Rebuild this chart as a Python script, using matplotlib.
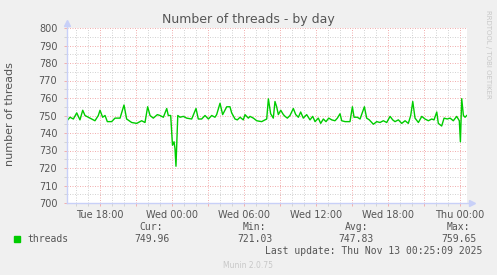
import matplotlib
matplotlib.use("Agg")
import matplotlib.pyplot as plt
from matplotlib.ticker import MultipleLocator, FuncFormatter

# hours since Tue 00:00, number of threads
hours = [15.25, 15.5, 15.78, 16.06, 16.33, 16.56, 16.75, 17.03, 17.31, 17.58,
         17.86, 18.0, 18.22, 18.42, 18.61, 18.97, 19.25, 19.67, 20.0, 20.22,
         20.64, 21.06, 21.47, 21.75, 21.97, 22.17, 22.44, 22.78, 23.0, 23.28,
         23.56, 23.69, 23.89, 24.04, 24.17, 24.25, 24.33, 24.48, 24.67, 24.94,
         25.22, 25.64, 26.0, 26.19, 26.47, 26.75, 27.03, 27.31, 27.58, 27.72,
         28.0, 28.22, 28.56, 28.83, 28.97, 29.25, 29.44, 29.67, 29.94, 30.08,
         30.36, 30.5, 30.78, 31.06, 31.47, 31.75, 31.89, 32.03, 32.22, 32.44,
         32.58, 32.72, 32.86, 33.06, 33.28, 33.42, 33.61, 33.83, 34.11, 34.31,
         34.53, 34.72, 34.94, 35.22, 35.5, 35.72, 35.92, 36.19, 36.39, 36.61,
         36.83, 37.06, 37.31, 37.58, 37.78, 38.0, 38.14, 38.42, 38.83, 39.03,
         39.17, 39.44, 39.67, 40.03, 40.22, 40.44, 40.78, 41.06, 41.33, 41.61,
         41.89, 42.17, 42.39, 42.58, 42.86, 43.14, 43.42, 43.69, 43.89, 44.06,
         44.25, 44.53, 44.81, 45.08, 45.36, 45.64, 45.83, 46.06, 46.19, 46.47,
         46.67, 46.94, 47.17, 47.44, 47.72, 47.94, 48.03, 48.14, 48.28, 48.42,
         48.56]
threads = [747, 749, 748, 751.5, 747.5, 753, 750, 749, 748, 747,
           750, 753, 749, 750, 746.5, 746.5, 748.5, 748.5, 756, 748,
           746, 745.5, 747, 746, 755, 750, 748.5, 750.5, 750, 749,
           754, 750, 750, 733, 735, 731, 721, 750, 749, 749.5,
           748.5, 748, 754, 748, 748, 750, 748, 750, 749, 750.5,
           757, 750.5, 755, 755, 751.5, 748, 747.5, 749, 747.5, 750.5,
           748.5, 749.5, 748.5, 747, 746.5, 747.5, 748, 759.5, 751, 748.5,
           758, 755, 750.5, 753, 750.5, 749.5, 748.5, 750, 754, 750.5,
           749, 752, 748.5, 750.5, 747.5, 749.5, 746.5, 748.5, 745.5, 748,
           746.5, 748.5, 747.5, 747, 748.5, 751, 747, 746.5, 746.5, 755,
           749, 749, 748, 755, 748.5, 747.5, 745, 746.5, 746, 747,
           746, 749.5, 747.5, 746.5, 747.5, 745.5, 747, 745.5, 750, 758,
           748.5, 746, 749.5, 748, 747, 748, 747.5, 752, 745.5, 744,
           748.5, 748, 748.5, 747, 749.5, 747, 735, 759.6, 750, 749,
           750]

legend_heads = ["Cur:", "Min:", "Avg:", "Max:"]
legend_vals = ["749.96", "721.03", "747.83", "759.65"]
last_update = "Last update: Thu Nov 13 00:25:09 2025"
days = {0: "Tue", 1: "Wed", 2: "Thu"}

W, H = 497, 275
fig = plt.figure(figsize=(W / 100, H / 100), dpi=100, facecolor="#f0f0f0")
ax = fig.add_axes([67 / W, 1 - 203 / H, 400 / W, 175 / H], facecolor="white")

txt = "#555555"
axis_col = "#c8d0f8"

ax.set_xlim(15.25, 48.58)
ax.set_ylim(700, 800)

ax.xaxis.set_major_locator(MultipleLocator(3))
ax.xaxis.set_minor_locator(MultipleLocator(1))
ax.yaxis.set_major_locator(MultipleLocator(10))
ax.yaxis.set_minor_locator(MultipleLocator(5))


def fmt_x(h, pos):
    h = int(round(h))
    if h % 6:
        return ""
    return "%s %02d:00" % (days[h // 24], h % 24)


ax.xaxis.set_major_formatter(FuncFormatter(fmt_x))
ax.yaxis.set_major_formatter(FuncFormatter(lambda v, p: "%d" % v))

ax.grid(which="minor", color="#d4d4d4", linestyle=(0, (1, 1.5)), linewidth=0.72)
ax.grid(which="major", color="#f2b0b0", linestyle=(0, (1, 1.5)), linewidth=0.72)
ax.set_axisbelow(True)

ax.tick_params(which="both", length=2, width=0.72, labelsize=7, labelcolor=txt)
ax.tick_params(which="major", color="#f2b0b0")
ax.tick_params(which="minor", color="#d4d4d4")
ax.tick_params(axis="y", pad=5)
ax.tick_params(axis="x", pad=3)

for s in ["top", "right"]:
    ax.spines[s].set_visible(False)
for s in ["left", "bottom"]:
    ax.spines[s].set_color(axis_col)
    ax.spines[s].set_linewidth(1)
ax.spines["bottom"].set_bounds(15.25, 48.85)
ax.spines["left"].set_bounds(700, 803)
ax.plot([1.0 + 5 / 400], [0], ">", color=axis_col, ms=4, transform=ax.transAxes, clip_on=False)
ax.plot([0], [1.0 + 5 / 175], "^", color=axis_col, ms=4, transform=ax.transAxes, clip_on=False)

ax.plot(hours, threads, color="#00cc00", linewidth=1.0)

fig.text(10 / W, 1 - 114 / H, "number of threads", rotation=90, ha="center", va="center",
         fontsize=8, color=txt)
fig.text(248 / W, 1 - 19 / H, "Number of threads - by day", ha="center", va="center",
         fontsize=9, color=txt)
fig.text(488 / W, 1 - 54 / H, "RRDTOOL / TOBI OETIKER", rotation=270, ha="center",
         va="center", fontsize=5, color="#c8c8c8")
fig.text(248 / W, 1 - 265 / H, "Munin 2.0.75", ha="center", va="center",
         fontsize=5.5, color="#c8c8c8")

mono = "DejaVu Sans Mono"
fig.patches.append(plt.Rectangle((14 / W, 1 - 242 / H), 6 / W, 6 / H, color="#00cc00",
                                 transform=fig.transFigure, figure=fig))
fig.text(27 / W, 1 - 239 / H, "threads", ha="left", va="center", family=mono,
         fontsize=7, color=txt)
head_x = [163, 266, 368, 470]
val_x = [170, 273, 374, 477]
for hx, vx, hd, vl in zip(head_x, val_x, legend_heads, legend_vals):
    fig.text(hx / W, 1 - 227 / H, hd, ha="right", va="center", family=mono,
             fontsize=7, color=txt)
    fig.text(vx / W, 1 - 239 / H, vl, ha="right", va="center", family=mono,
             fontsize=7, color=txt)
fig.text(482 / W, 1 - 251 / H, last_update, ha="right", va="center", family=mono,
         fontsize=7, color=txt)

fig.savefig("out.png", dpi=100, facecolor=fig.get_facecolor())
